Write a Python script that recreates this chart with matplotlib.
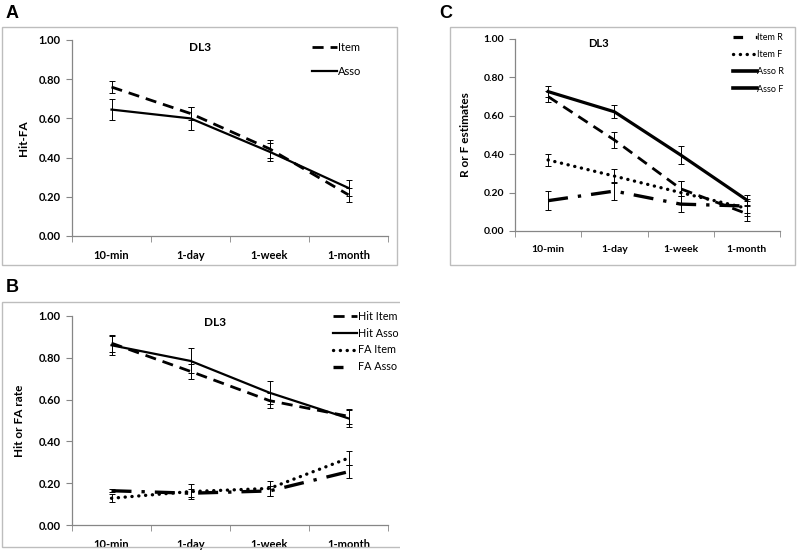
import matplotlib
matplotlib.use("Agg")
import matplotlib.pyplot as plt
from matplotlib.lines import Line2D
from matplotlib.patches import Rectangle
import numpy as np

plt.rcParams['font.family'] = ['Lato', 'DejaVu Sans']

# --- data ---
cats = ["10-min", "1-day", "1-week", "1-month"]

a_item = [0.76, 0.625, 0.445, 0.21]
a_item_err = [0.03, 0.035, 0.045, 0.035]
a_asso = [0.645, 0.60, 0.43, 0.245]
a_asso_err = [0.052, 0.06, 0.045, 0.04]

b_hit_item = [0.87, 0.735, 0.595, 0.52]
b_hit_item_err = [0.04, 0.035, 0.037, 0.035]
b_hit_asso = [0.86, 0.785, 0.633, 0.51]
b_hit_asso_err = [0.045, 0.06, 0.055, 0.04]
b_fa_item = [0.128, 0.16, 0.175, 0.32]
b_fa_item_err = [0.02, 0.035, 0.035, 0.035]
b_fa_asso = [0.164, 0.152, 0.163, 0.255]
b_fa_asso_err = [0.008, 0.02, 0.025, 0.032]

c_item_r = [0.70, 0.474, 0.22, 0.09]
c_item_r_err = [0.03, 0.04, 0.04, 0.04]
c_item_f = [0.37, 0.286, 0.20, 0.118]
c_item_f_err = [0.03, 0.035, 0.06, 0.04]
c_asso_r = [0.726, 0.621, 0.396, 0.161]
c_asso_r_err = [0.03, 0.033, 0.047, 0.025]
c_asso_f = [0.158, 0.208, 0.14, 0.13]
c_asso_f_err = [0.05, 0.045, 0.04, 0.035]

yticks = [0.0, 0.2, 0.4, 0.6, 0.8, 1.0]

W, H = 800, 557
fig = plt.figure(figsize=(8.0, 5.57), dpi=100)


def px_axes(x0, y0, x1, y1):
    # pixel box (top-left origin) -> figure axes
    return fig.add_axes([x0 / W, 1 - y1 / H, (x1 - x0) / W, (y1 - y0) / H])


def px_box(x0, y0, x1, y1):
    fig.patches.append(Rectangle((x0 / W, 1 - y1 / H), (x1 - x0) / W, (y1 - y0) / H,
                                 transform=fig.transFigure, fill=False,
                                 edgecolor="#bdbdbd", linewidth=1.0))


def style_axes(ax, ylabel, ylab_x, fs=8):
    x = np.arange(len(cats))
    ax.set_xlim(-0.5, len(cats) - 0.5)
    ax.set_ylim(0, 1.0)
    ax.set_xticks(x)
    ax.set_xticklabels(cats, fontsize=fs, fontweight="bold")
    ax.set_xticks(np.arange(len(cats) + 1) - 0.5, minor=True)
    ax.tick_params(axis="x", which="major", length=0, pad=10)
    ax.tick_params(axis="x", which="minor", length=4, color="#868686", direction="out")
    ax.set_yticks(yticks)
    ax.set_yticklabels([f"{v:.2f}" for v in yticks], fontsize=fs, fontweight="bold")
    ax.tick_params(axis="y", length=4, color="#868686", pad=4)
    for s in ["top", "right"]:
        ax.spines[s].set_visible(False)
    for s in ["left", "bottom"]:
        ax.spines[s].set_color("#868686")
        ax.spines[s].set_linewidth(0.9)
    ax.set_ylabel(ylabel, fontsize=8.5, fontweight="bold")
    ax.yaxis.set_label_coords(ylab_x, 0.5)
    ax.patch.set_visible(False)


def series(ax, y, err, **kw):
    x = np.arange(len(cats))
    ax.errorbar(x, y, yerr=err, ecolor="black", elinewidth=0.7, capsize=2,
                capthick=0.7, color="black", **kw)


DASH = (0, (4, 2.5))
DOT = (0, (0.05, 2.0))
LDD = (0, (6, 3, 1, 3))

# ---------------- A ----------------
px_box(2, 27, 397, 265)
fig.text(6 / W, 1 - 13 / H, "A", fontsize=13, fontweight="bold", va="center",
         family="Liberation Sans")
axA = px_axes(72, 40, 388, 236)
series(axA, a_item, a_item_err, linestyle=DASH, linewidth=2.0, label="Item")
series(axA, a_asso, a_asso_err, linestyle="-", linewidth=1.6, label="Asso")
style_axes(axA, "Hit-FA", -0.136)
axA.text(0.405, 0.96, "DL3", transform=axA.transAxes, fontsize=8.5, fontweight="bold",
         ha="center", va="center")
hA = [Line2D([], [], color="black", linestyle=DASH, linewidth=2.0),
      Line2D([], [], color="black", linestyle="-", linewidth=1.6)]
axA.legend(hA, ["Item", "Asso"], loc="upper left", bbox_to_anchor=(0.76, 0.99),
           frameon=False, fontsize=8, handlelength=2.2, handletextpad=0.1,
           labelspacing=1.15, borderpad=0, borderaxespad=0)

# ---------------- B ----------------
px_box(2, 302, 420, 547)
fig.text(6 / W, 1 - 287 / H, "B", fontsize=13, fontweight="bold", va="center",
         family="Liberation Sans")
axB = px_axes(72, 316, 388, 525)
series(axB, b_hit_item, b_hit_item_err, linestyle=DASH, linewidth=2.0)
series(axB, b_hit_asso, b_hit_asso_err, linestyle="-", linewidth=1.6)
series(axB, b_fa_item, b_fa_item_err, linestyle=DOT, linewidth=2.4,
       dash_capstyle="round")
series(axB, b_fa_asso, b_fa_asso_err, linestyle=LDD, linewidth=2.4)
style_axes(axB, "Hit or FA rate", -0.149)
axB.text(0.453, 0.967, "DL3", transform=axB.transAxes, fontsize=8.5, fontweight="bold",
         ha="center", va="center")
hB = [Line2D([], [], color="black", linestyle=DASH, linewidth=2.0),
      Line2D([], [], color="black", linestyle="-", linewidth=1.6),
      Line2D([], [], color="black", linestyle=DOT, linewidth=2.4, dash_capstyle="round"),
      Line2D([], [], color="black", linestyle=(0, (3, 10)), linewidth=2.4)]
axB.legend(hB, ["Hit Item", "Hit Asso", "FA Item", "FA Asso"], loc="upper left",
           bbox_to_anchor=(0.826, 1.026), frameon=False, fontsize=7.8,
           handlelength=2.2, handletextpad=0.1, labelspacing=0.55, borderpad=0,
           borderaxespad=0)
# the B panel is cropped at the right edge in the reference
fig.patches.append(Rectangle((400 / W, 0), 400 / W, 1 - 275 / H,
                             transform=fig.transFigure, facecolor="white",
                             edgecolor="none", zorder=10))

# ---------------- C ----------------
px_box(450, 27, 795, 265)
fig.text(439 / W, 1 - 13 / H, "C", fontsize=13, fontweight="bold", va="center",
         family="Liberation Sans")
axC = px_axes(515, 39, 780, 231)
series(axC, c_item_r, c_item_r_err, linestyle=DASH, linewidth=2.0)
series(axC, c_item_f, c_item_f_err, linestyle=DOT, linewidth=2.4, dash_capstyle="round")
series(axC, c_asso_r, c_asso_r_err, linestyle="-", linewidth=2.3)
series(axC, c_asso_f, c_asso_f_err, linestyle=LDD, linewidth=2.4)
style_axes(axC, "R or F estimates", -0.166, fs=7.5)
axC.text(0.313, 0.979, "DL3", transform=axC.transAxes, fontsize=8, fontweight="bold",
         ha="center", va="center")
hC = [Line2D([], [], color="black", linestyle=(0, (3, 4)), linewidth=2.3),
      Line2D([], [], color="black", linestyle=DOT, linewidth=2.4, dash_capstyle="round"),
      Line2D([], [], color="black", linestyle="-", linewidth=2.6),
      Line2D([], [], color="black", linestyle="-", linewidth=2.6)]
axC.legend(hC, ["Item R", "Item F", "Asso R", "Asso F"], loc="upper left",
           bbox_to_anchor=(0.823, 1.03), frameon=False, fontsize=6.5,
           handlelength=2.6, handletextpad=0.1, labelspacing=0.9, borderpad=0,
           borderaxespad=0)

fig.savefig("out.png", dpi=100)
